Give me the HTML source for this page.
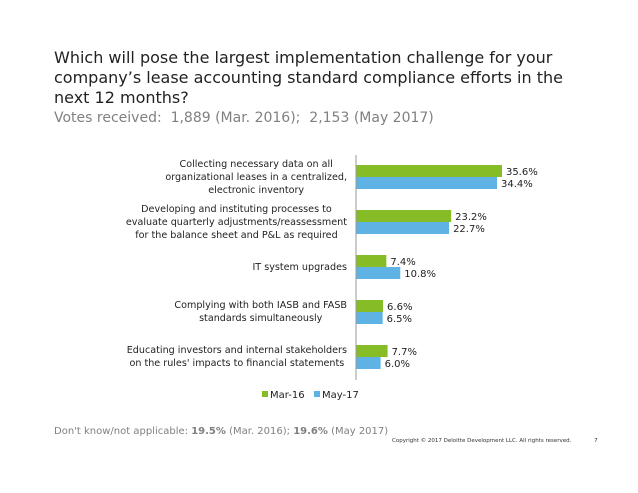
<!DOCTYPE html>
<html><head><meta charset="utf-8"><style>
body{margin:0;width:638px;height:493px;background:#fff;font-family:"DejaVu Sans","Liberation Sans",sans-serif;position:relative;overflow:hidden}
.t{position:absolute;left:54px;top:48px;font-size:16px;line-height:20px;color:#222;width:525px}
.s{position:absolute;left:54px;top:110px;font-size:14px;color:#808080}
.f{position:absolute;left:54px;top:426px;font-size:10px;color:#808080}
.c{position:absolute;left:392px;top:438px;font-size:5.5px;color:#333}
.lab{position:absolute;right:291px;text-align:center;white-space:nowrap;font-size:9.6px;line-height:13px;color:#222}
</style></head><body>
<div class="t">Which will pose the largest implementation challenge for your company’s lease accounting standard compliance efforts in the next 12 months?</div>
<div class="s">Votes received:&nbsp; 1,889 (Mar. 2016);&nbsp; 2,153 (May 2017)</div>
<svg id="ch" width="638" height="493" style="position:absolute;left:0;top:0"></svg>
<div class="f">Don't know/not applicable: <b>19.5%</b> (Mar. 2016); <b>19.6%</b> (May 2017)</div>
<div class="c">Copyright © 2017 Deloitte Development LLC. All rights reserved.&nbsp;&nbsp;&nbsp;&nbsp;&nbsp;&nbsp;&nbsp;&nbsp;&nbsp;&nbsp;&nbsp;&nbsp;&nbsp;7</div>
<script>
const categories=[["Collecting necessary data on all","organizational leases in a centralized,","electronic inventory"],["Developing and instituting processes to","evaluate quarterly adjustments/reassessment","for the balance sheet and P&L as required"],["IT system upgrades"],["Complying with both IASB and FASB","standards simultaneously"],["Educating investors and internal stakeholders","on the rules' impacts to financial statements"]];
const mar16=[35.6,23.2,7.4,6.6,7.7];
const may17=[34.4,22.7,10.8,6.5,6.0];
const seriesNames=["Mar-16","May-17"];
const colors=["#86bc25","#5eb3e4"];
const svg=document.getElementById('ch');const NS="http://www.w3.org/2000/svg";
const x0=356,k=4.1;const xs=v=>x0+v*k;const yc=i=>177+i*45;
function mk(t,a){const e=document.createElementNS(NS,t);for(const n in a)e.setAttribute(n,a[n]);svg.appendChild(e);return e;}
[mar16,may17].forEach((s,si)=>s.forEach((v,i)=>{
const y=yc(i)-12+si*12;
const r=mk('rect',{x:x0,y:y,width:xs(v)-x0,height:12,fill:colors[si]});


const t=mk('text',{x:xs(v)+4,y:y+10,'font-size':10,fill:'#222'});t.textContent=v.toFixed(1)+'%';


}));
categories.forEach((lines,i)=>{
const d=document.createElement('div');d.className='lab';


d.innerHTML=lines.map(l=>l.replace(/&/g,'&amp;')).join('<br>');
d.style.top=(yc(i)-lines.length*13/2)+'px';
document.body.appendChild(d);});
const ax=mk('line',{x1:x0,y1:155,x2:x0,y2:380,stroke:'#999','stroke-width':1});


[[262,seriesNames[0]],[314,seriesNames[1]]].forEach(([x,n],i)=>{
const r=mk('rect',{x:x,y:391,width:6,height:6,fill:colors[i]});


const t=mk('text',{x:x+8,y:398,'font-size':10,fill:'#222'});t.textContent=n;

});
</script>
</body></html>
